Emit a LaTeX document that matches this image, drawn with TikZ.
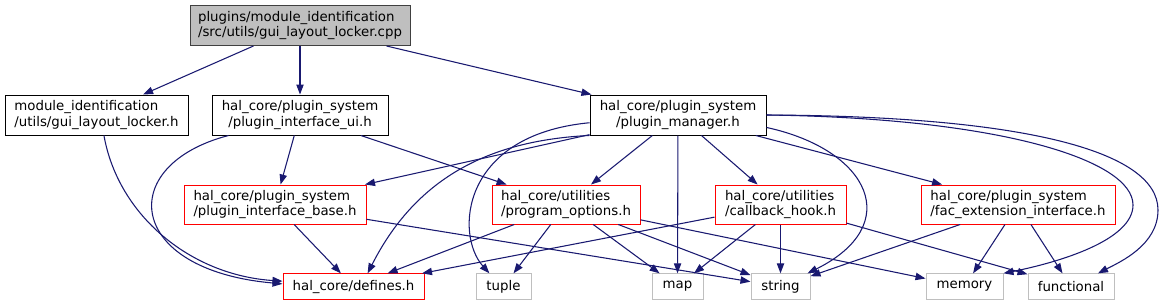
\documentclass[tikz,border=0pt]{standalone}
\usepackage{fontspec}
\setmainfont{DejaVu Sans}
\usepackage{xcolor}
\usepackage{tikz}
\usetikzlibrary{arrows.meta}

\definecolor{edgeblue}{HTML}{191970}
\definecolor{rootfill}{HTML}{BFBFBF}
\definecolor{rootline}{HTML}{404040}
\definecolor{sysline}{HTML}{BFBFBF}

\begin{document}
\begin{tikzpicture}[
    x=0.75pt, y=-0.75pt,
    >={Triangle[length=7.5pt, width=5.5pt]},
    hdr/.style={draw=#1, line width=0.75pt, minimum height=30pt, inner sep=3pt, align=left, font=\fontsize{10}{11.5}\selectfont},
    hdr/.default={black},
    sys/.style={draw=sysline, line width=0.75pt, minimum height=19pt, inner sep=3pt, font=\fontsize{10}{11.5}\selectfont},
    dep/.style={->, draw=edgeblue, line width=0.8pt}
]
\useasboundingbox (0,0) rectangle (1163,305);

\node[hdr=rootline, fill=rootfill, minimum width=165pt] (cpp) at (300, 25.5) {plugins/module\_identification\\/src/utils/gui\_layout\_locker.cpp};

\node[hdr, minimum width=137.25pt] (guih) at (96.5, 115) {module\_identification\\/utils/gui\_layout\_locker.h};
\node[hdr, align=center, minimum width=132pt] (ui) at (300, 115) {hal\_core/plugin\_system\\/plugin\_interface\_ui.h};
\node[hdr, align=center, minimum width=132pt] (mgr) at (678, 115) {hal\_core/plugin\_system\\/plugin\_manager.h};

\node[hdr=red, minimum width=136.5pt, minimum height=29.25pt] (base) at (275, 204.5) {hal\_core/plugin\_system\\/plugin\_interface\_base.h};
\node[hdr=red, minimum width=111pt, minimum height=29.25pt] (opts) at (566, 204.5) {hal\_core/utilities\\/program\_options.h};
\node[hdr=red, minimum width=98.25pt, minimum height=29.25pt] (hook) at (780.5, 204.5) {hal\_core/utilities\\/callback\_hook.h};
\node[hdr=red, minimum width=145.5pt, minimum height=29.25pt] (fac) at (1018, 204.5) {hal\_core/plugin\_system\\/fac\_extension\_interface.h};

\node[sys, draw=red, minimum width=105.75pt] (defines) at (353.5, 286.5) {hal\_core/defines.h};
\node[sys, minimum width=41.25pt] (tuple) at (503.5, 286.5) {tuple};
\node[sys, minimum width=38.25pt] (map) at (677.5, 286.5) {map};
\node[sys, minimum width=44.25pt] (string) at (780.5, 286.5) {string};
\node[sys, minimum width=57.75pt] (memory) at (964.5, 286.5) {memory};
\node[sys, minimum width=64.5pt] (functional) at (1071, 286.5) {functional};

\draw[dep] (cpp) -- (guih);
\draw[dep] (cpp) -- (ui);
\draw[dep] (cpp) -- (mgr);

\draw[dep] (guih.290) .. controls (118,215) and (190,275) .. ([yshift=4pt]defines.west);

\draw[dep] (ui.196) .. controls (115,165) and (125,270) .. ([yshift=2pt]defines.west);
\draw[dep] (ui) -- (base);
\draw[dep] (ui) -- (opts);

\draw[dep] (mgr) -- (base);
\draw[dep] (mgr.193) .. controls (500,140) and (420,170) .. (defines.43);
\draw[dep] (mgr.185) .. controls (460,135) and (455,235) .. (tuple.137);
\draw[dep] (mgr) -- (opts);
\draw[dep] (mgr) -- (map);
\draw[dep] (mgr) -- (hook);
\draw[dep] (mgr.352) .. controls (870,150) and (905,225) .. (string.26);
\draw[dep] (mgr) -- (fac);
\draw[dep] (mgr.east) .. controls (1000,118) and (1133,160) .. (1133,205) .. controls (1133,240) and (1060,262) .. (memory.north east);
\draw[dep] (mgr.east) .. controls (1020,116) and (1158,150) .. (1158,210) .. controls (1158,245) and (1120,262) .. (functional.26);

\draw[dep] (base) -- (defines);
\draw[dep] (base) -- (string);

\draw[dep] (opts) -- (defines);
\draw[dep] (opts) -- (tuple);
\draw[dep] (opts) -- (map);
\draw[dep] (opts) -- (string);
\draw[dep] (opts) -- (memory);

\draw[dep] (hook) -- (defines);
\draw[dep] (hook) -- (map);
\draw[dep] (hook) -- (string);
\draw[dep] (hook) -- (functional);

\draw[dep] (fac) -- (string);
\draw[dep] (fac) -- (memory);
\draw[dep] (fac) -- (functional);

\end{tikzpicture}
\end{document}
